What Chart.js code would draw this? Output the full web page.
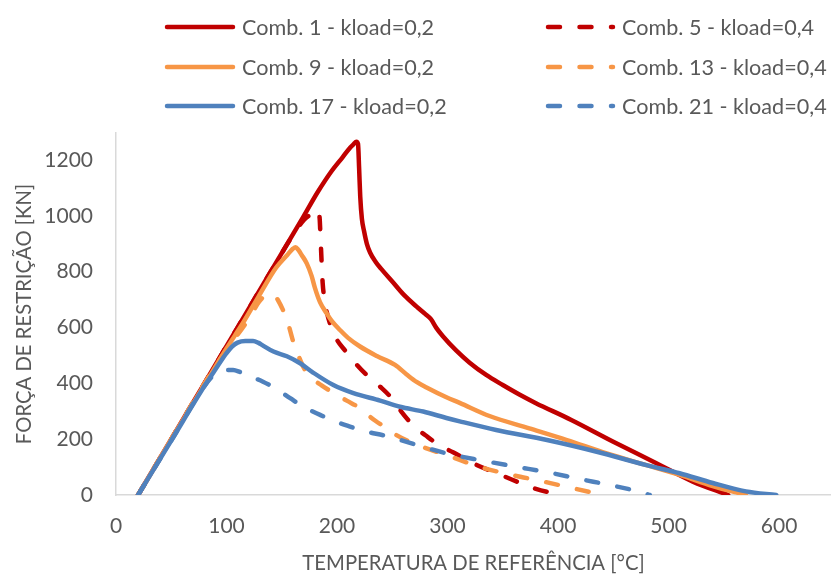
<!DOCTYPE html>
<html>
<head>
<meta charset="utf-8">
<script src="https://cdn.jsdelivr.net/npm/chart.js@4/dist/chart.umd.min.js"></script>
<style>
  html, body { margin: 0; padding: 0; background: #ffffff; }
  #wrap { width: 831px; height: 575px; position: relative; }
</style>
</head>
<body>
<div id="wrap"><canvas id="chart"></canvas></div>
<script>
// Series names (legend order: two columns, three rows)
const seriesLabels = [
  'Comb. 1 - kload=0,2', 'Comb. 5 - kload=0,4',
  'Comb. 9 - kload=0,2', 'Comb. 13 - kload=0,4',
  'Comb. 17 - kload=0,2', 'Comb. 21 - kload=0,4'
];

// [temperature °C, restraint force kN]
const comb1 = [[20,0],[50,200],[80,400],[110,600],[140,800],[170,1000],[182,1082],[195,1160],[205,1210],[212,1245],[215,1257],[217.5,1266],[219,1258],[220,1170],[221,1070],[222.5,990],[224.5,945],[227,900],[230,868],[235,835],[240,810],[250,765],[261,715],[272,675],[280,648],[285,630],[290,598],[296,568],[308,517],[320,474],[335,430],[350,394],[365,360],[380,329],[412,269],[450,191],[489,114],[522,48],[554,0]];
const comb5 = [[20,0],[50,200],[80,400],[110,600],[140,800],[160,930],[170,985],[176,1005],[180,1016],[183,1022],[184.3,990],[185,930],[186,840],[187,760],[188.5,705],[191,651],[195,600],[200,556],[206,524],[212,496],[218,466],[230,418],[239,388],[251,340],[258,300],[270,245],[280,214],[293,177],[305,153],[323,114],[350,69],[380,22],[403,0]];
const comb9 = [[20,0],[50,200],[80,395],[100,525],[115,617],[129,711],[145,815],[155,860],[160,882],[162.5,888],[165,878],[168,860],[172.6,830],[177,785],[180,742],[184.7,690],[190.6,651],[195,625],[202.7,591],[210,563],[220.8,532],[236,498],[252.5,466],[263,432],[272,405],[281,385],[299,350],[311,330],[338,283],[374,239],[408,197],[444,149],[480,107],[510,72],[540,32],[570,0]];
const comb13 = [[20,0],[50,200],[80,400],[100,520],[120,630],[129,690],[134,712],[139,722],[143,716],[146,702],[150,672],[154.6,630],[160.5,548],[165,500],[170,455],[175.6,424],[186,393],[196.7,366],[208.8,338],[220.8,311],[226.9,290],[235,265],[245,239],[251,221],[269,185],[281,167],[299,143],[329,101],[358,72],[383.5,51],[413.6,24],[441,0]];
const comb17 = [[20,0],[50,195],[80,390],[88,438],[95,480],[100,508],[105,532],[110,546],[117,552],[124,552],[129,545],[132,538],[142.5,514],[154.6,497],[166.6,472],[178.6,438],[196.7,394],[214.8,365],[239,338],[257,316],[278,299],[299,276],[311,264],[344,233],[390,197],[435,155],[480,107],[510,78],[540,43],[570,13],[597.5,0]];
const comb21 = [[20,0],[50,195],[80,390],[88,428],[94,442],[100,447],[106,448],[112,441],[120,427],[133,406],[145.5,379],[157.6,347],[169.6,316],[184.7,287],[196.7,266],[211.8,245],[223.8,230],[246,210],[275,176],[300,148],[332,123],[362.5,101],[390,82],[420,57],[449,34],[477,8],[483,0]];

// Axis titles and tick spacing
const xTitle = 'TEMPERATURA DE REFERÊNCIA [°C]';
const yTitle = 'FORÇA DE RESTRIÇÃO [KN]';
const xTickStep = 100;
const yTickStep = 200;

const RED = '#C00000', ORANGE = '#F79646', BLUE = '#4F81BD';
const TEXT = '#595959';
const FONT = 'Lato, "Open Sans", sans-serif';
const DASH = [12, 19.5];

const seriesData = [comb1, comb5, comb9, comb13, comb17, comb21];
const seriesColors = [RED, RED, ORANGE, ORANGE, BLUE, BLUE];
const seriesDashed = [false, true, false, true, false, true];

const datasets = seriesData.map((pts, i) => ({
  label: seriesLabels[i],
  data: pts.map(p => ({ x: p[0], y: p[1] })),
  borderColor: seriesColors[i],
  backgroundColor: seriesColors[i],
  borderWidth: 4.5,
  borderDash: seriesDashed[i] ? DASH : [],
  borderCapStyle: 'round',
  borderJoinStyle: 'round',
  pointRadius: 0,
  pointHoverRadius: 0,
  cubicInterpolationMode: 'monotone',
  fill: false,
  order: seriesData.length - i   // later series are painted on top
}));

// Legend drawn on the canvas: two columns of line samples with labels
const comboLegend = {
  id: 'comboLegend',
  afterDraw(chart) {
    const ctx = chart.ctx;
    const rowsY = [27, 67, 106];
    const cols = [
      { x0: 167, x1: 233, tx: 242 },
      { x0: 548, x1: 613, tx: 622 }
    ];
    ctx.save();
    chart.data.datasets.forEach((ds, i) => {
      const c = cols[i % 2];
      const y = rowsY[Math.floor(i / 2)];
      ctx.beginPath();
      ctx.strokeStyle = ds.borderColor;
      ctx.lineWidth = ds.borderWidth;
      ctx.lineCap = 'round';
      ctx.setLineDash(ds.borderDash || []);
      ctx.moveTo(c.x0, y);
      ctx.lineTo(c.x1, y);
      ctx.stroke();
      ctx.setLineDash([]);
      ctx.fillStyle = TEXT;
      ctx.font = '21.6px ' + FONT;
      ctx.textBaseline = 'middle';
      ctx.textAlign = 'left';
      ctx.fillText(ds.label, c.tx, y + 1);
    });
    ctx.restore();
  }
};

new Chart(document.getElementById('chart'), {
  type: 'line',
  data: { datasets },
  plugins: [comboLegend],
  options: {
    responsive: true,
    maintainAspectRatio: false,
    animation: false,
    devicePixelRatio: 1,
    layout: { padding: { top: 133, left: 0, right: 0, bottom: 0 } },
    plugins: { legend: { display: false }, tooltip: { enabled: false } },
    scales: {
      x: {
        type: 'linear',
        min: 0,
        max: 647,
        afterFit: s => { s.height = 80; },
        grid: { display: false, drawTicks: false },
        border: { display: true, color: '#d9d9d9', width: 1.5 },
        ticks: {
          stepSize: xTickStep, includeBounds: false, padding: 19,
          color: TEXT, font: { family: FONT, size: 21 }, maxRotation: 0,
          callback: v => String(v)
        },
        title: {
          display: true, text: xTitle, color: TEXT,
          font: { family: FONT, size: 20.3, lineHeight: 1.1 }, padding: { top: 0, bottom: 0 }
        }
      },
      y: {
        type: 'linear',
        min: 0,
        max: 1297,
        afterFit: s => { s.width = 116; },
        grid: { display: false, drawTicks: false },
        border: { display: true, color: '#d9d9d9', width: 1.5 },
        ticks: {
          stepSize: yTickStep, includeBounds: false, padding: 23,
          color: TEXT, font: { family: FONT, size: 21 },
          callback: v => String(v)
        },
        title: {
          display: true, text: yTitle, color: TEXT,
          font: { family: FONT, size: 20.3 }, padding: { top: 12, bottom: 0 }
        }
      }
    }
  }
});
</script>
</body>
</html>
